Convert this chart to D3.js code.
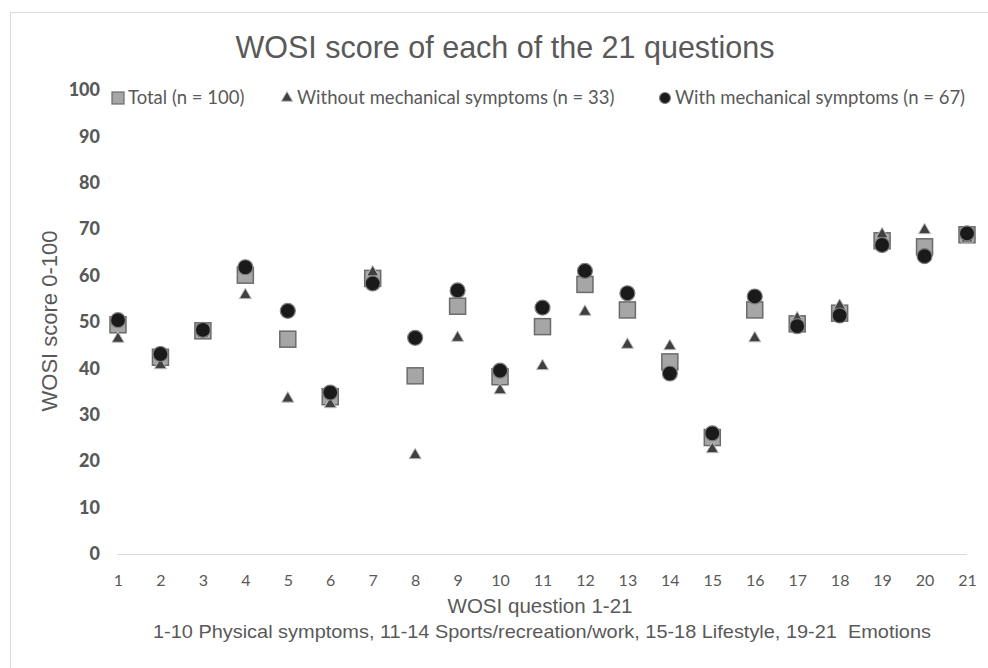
<!DOCTYPE html>
<html>
<head>
<meta charset="utf-8">
<script src="https://cdn.jsdelivr.net/npm/d3@7"></script>
<style>
  body { margin: 0; background: #fff; }
  text { fill: #595959; }
</style>
</head>
<body>
<div id="chart"></div>
<script>
// WOSI scores per question
const questions = d3.range(1, 22);
const total   = [49.4, 42.4, 48.1, 60.1, 46.3, 33.9, 59.4, 38.4, 53.4, 38.2, 49.0, 58.1, 52.6, 41.4, 25.1, 52.6, 49.6, 51.9, 67.5, 66.2, 68.8];
const without = [46.6, 40.9, 47.7, 56.0, 33.7, 32.5, 60.9, 21.5, 46.8, 35.5, 40.7, 52.4, 45.3, 45.0, 22.8, 46.7, 51.0, 53.7, 69.1, 70.0, 68.2];
const withMech = [50.4, 43.1, 48.3, 61.8, 52.4, 34.8, 58.3, 46.6, 56.8, 39.5, 53.1, 61.0, 56.2, 38.9, 26.0, 55.5, 49.1, 51.4, 66.6, 64.2, 69.1];
const yTicks = d3.range(0, 101, 10);
const legendLabels = ["Total (n = 100)", "Without mechanical symptoms (n = 33)", "With mechanical symptoms (n = 67)"];

const width = 988, height = 668;
const margin = {left: 118, right: 21, top: 90, bottom: 114};

const svg = d3.select("#chart").append("svg")
    .attr("width", width)
    .attr("height", height);

// outer chart frame (only top and left visible in the picture)
svg.append("rect")
    .attr("x", 10.5).attr("y", 12.5)
    .attr("width", 1000).attr("height", 700)
    .attr("fill", "none")
    .attr("stroke", "#d9d9d9");

const x = d3.scalePoint()
    .domain(questions)
    .range([margin.left, width - margin.right]);

const y = d3.scaleLinear()
    .domain([0, 100])
    .range([height - margin.bottom, margin.top]);

// title
svg.append("text")
    .attr("x", 505).attr("y", 58)
    .attr("text-anchor", "middle")
    .style("font-family", "'Liberation Sans', Arial, sans-serif")
    .style("font-size", "30.5px")
    .text("WOSI score of each of the 21 questions");

// y axis labels (no axis line)
const yAxis = svg.append("g")
    .attr("transform", `translate(${margin.left - 18},0)`)
    .call(d3.axisLeft(y).tickValues(yTicks).tickSize(0).tickPadding(0));
yAxis.select(".domain").remove();
yAxis.selectAll("text")
    .attr("fill", "#595959")
    .style("font-family", "Lato, 'Open Sans', sans-serif")
    .style("font-weight", "900")
    .style("font-size", "18px");

// baseline at zero
svg.append("line")
    .attr("x1", margin.left - 1).attr("x2", width - margin.right)
    .attr("y1", y(0) + 0.5).attr("y2", y(0) + 0.5)
    .attr("stroke", "#d9d9d9")
    .attr("stroke-width", 1.2);

// x axis labels
const xAxis = svg.append("g")
    .attr("transform", `translate(0,${y(0) + 21})`)
    .call(d3.axisBottom(x).tickSize(0).tickPadding(0));
xAxis.select(".domain").remove();
xAxis.selectAll("text")
    .attr("fill", "#595959")
    .attr("dy", "0.71em")
    .style("font-family", "Lato, 'Open Sans', sans-serif")
    .style("font-size", "16px");

// axis titles
svg.append("text")
    .attr("transform", `translate(57,${y(50) - 1}) rotate(-90)`)
    .attr("text-anchor", "middle")
    .style("font-family", "'Liberation Sans', Arial, sans-serif")
    .style("font-size", "22px")
    .text("WOSI score 0-100");

svg.append("text")
    .attr("x", 540).attr("y", 613)
    .attr("text-anchor", "middle")
    .style("font-family", "'Liberation Sans', Arial, sans-serif")
    .style("font-size", "21px")
    .attr("textLength", 185)
    .attr("lengthAdjust", "spacingAndGlyphs")
    .text("WOSI question 1-21");

svg.append("text")
    .attr("x", 542).attr("y", 638)
    .attr("text-anchor", "middle")
    .style("font-family", "'Liberation Sans', Arial, sans-serif")
    .style("font-size", "19px")
    .attr("textLength", 778)
    .attr("lengthAdjust", "spacingAndGlyphs")
    .attr("xml:space", "preserve")
    .text("1-10 Physical symptoms, 11-14 Sports/recreation/work, 15-18 Lifestyle, 19-21  Emotions");

// marker shapes
const drawSquare = (g, cx, cy, s) => g.append("rect")
    .attr("x", cx - s / 2).attr("y", cy - s / 2)
    .attr("width", s).attr("height", s)
    .attr("fill", "#a6a6a6").attr("stroke", "#6b6b6b").attr("stroke-width", 1.5);
const drawTri = (g, cx, cy, sz) => g.append("path")
    .attr("d", d3.symbol().type(d3.symbolTriangle).size(sz)())
    .attr("transform", `translate(${cx},${cy + 1})`)
    .attr("fill", "#404040").attr("stroke", "#bfbfbf").attr("stroke-width", 1);
const drawCircle = (g, cx, cy, r) => g.append("circle")
    .attr("cx", cx).attr("cy", cy).attr("r", r)
    .attr("fill", "#1a1a1a").attr("stroke", "#7f7f7f").attr("stroke-width", 1.2);

const pts = svg.append("g");
questions.forEach((q, i) => drawSquare(pts, x(q), y(total[i]), 16));
questions.forEach((q, i) => drawTri(pts, x(q), y(without[i]), 64));
questions.forEach((q, i) => drawCircle(pts, x(q), y(withMech[i]), 7.5));

// legend
const leg = svg.append("g");
const legY = 97;
const legX = [118, 287, 665];
drawSquare(leg, legX[0], legY + 1, 12).attr("stroke-width", 1.2);
drawTri(leg, legX[1], legY, 56);
drawCircle(leg, legX[2], legY + 1, 5.5);
legendLabels.forEach((t, i) => {
    leg.append("text")
        .attr("x", legX[i] + 10).attr("y", legY + 7)
        .style("font-family", "Lato, 'Open Sans', sans-serif")
        .style("font-size", "18.5px")
        .text(t);
});
</script>
</body>
</html>
